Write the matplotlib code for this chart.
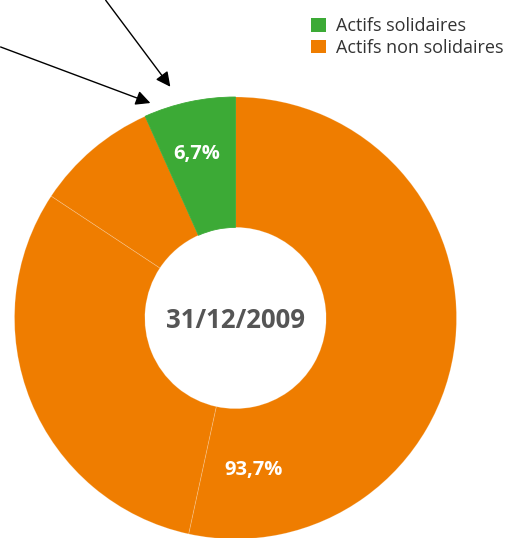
import matplotlib
matplotlib.use('Agg')
import matplotlib.pyplot as plt
from matplotlib.patches import Patch

# slice shares in percent, clockwise from 12 o'clock
shares = [53.4, 30.9, 9.0, 6.7]
slice_colors = ['#ef7d00', '#ef7d00', '#ef7d00', '#3caa36']
legend_labels = ['Actifs solidaires', 'Actifs non solidaires']
legend_colors = ['#3caa36', '#ef7d00']
label_solidaire = '6,7%'
label_non_solidaire = '93,7%'
centre_label = '31/12/2009'

plt.rcParams['font.family'] = ['Open Sans', 'DejaVu Sans']

W, H = 509, 538
fig = plt.figure(figsize=(W / 100, H / 100), dpi=100)
cx, cy, r = 235.5, H - 318, 221
ax = fig.add_axes([(cx - r) / W, (cy - r) / H, 2 * r / W, 2 * r / H])

wedges, _ = ax.pie(shares, colors=slice_colors, startangle=90, counterclock=False,
                   radius=1.0, wedgeprops=dict(width=0.59, edgecolor=(1, 1, 1, 0.22), linewidth=0.6))
for w in wedges:
    w.set_clip_on(False)
wedges[-1].set_edgecolor(slice_colors[-1])
ax.set_xlim(-1, 1)
ax.set_ylim(-1, 1)
ax.set_aspect('equal')
ax.axis('off')

ax.text(-0.175, 0.74, label_solidaire, color='white', fontsize=14.5, fontweight='bold',
        ha='center', va='center')
ax.text(0.08, -0.69, label_non_solidaire, color='white', fontsize=14.5, fontweight='bold',
        ha='center', va='center')
ax.text(0.0, -0.01, centre_label, color='#555555', fontsize=18.5, fontweight='bold',
        ha='center', va='center')

# arrows coming from outside the picture
arrow = dict(arrowstyle='-|>', color='black', lw=1, mutation_scale=22)
ax.annotate('', xy=(153, H - 104), xycoords='figure pixels',
            xytext=(-2, H - 46), textcoords='figure pixels', arrowprops=arrow)
ax.annotate('', xy=(172, H - 89), xycoords='figure pixels',
            xytext=(104, H + 2), textcoords='figure pixels', arrowprops=arrow)

handles = [Patch(facecolor=c, edgecolor='none') for c in legend_colors]
fig.legend(handles, legend_labels, loc='upper left', bbox_to_anchor=(295 / W, 1 - 1 / H),
           frameon=False, fontsize=13, handlelength=0.8, handleheight=0.8,
           handletextpad=0.55, labelspacing=0.2, labelcolor='#333333')

fig.savefig('out.png', dpi=100)
